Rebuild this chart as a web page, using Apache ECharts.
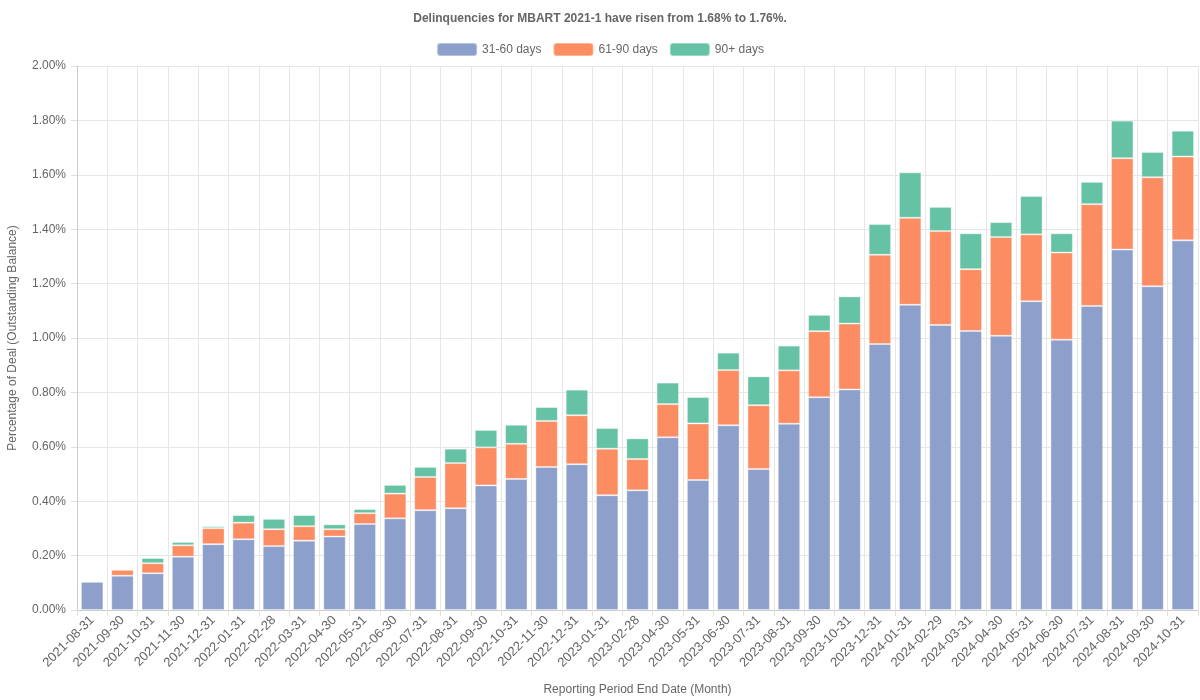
<!DOCTYPE html>
<html>
<head>
<meta charset="utf-8">
<script src="https://cdn.jsdelivr.net/npm/echarts@6/dist/echarts.min.js"></script>
<style>html,body{margin:0;padding:0;background:#fff}#c{width:1200px;height:700px}</style>
</head>
<body>
<div id="c"></div>
<script>
const categories = ["2021-08-31","2021-09-30","2021-10-31","2021-11-30","2021-12-31","2022-01-31","2022-02-28","2022-03-31","2022-04-30","2022-05-31","2022-06-30","2022-07-31","2022-08-31","2022-09-30","2022-10-31","2022-11-30","2022-12-31","2023-01-31","2023-02-28","2023-04-30","2023-05-31","2023-06-30","2023-07-31","2023-08-31","2023-09-30","2023-10-31","2023-12-31","2024-01-31","2024-02-29","2024-03-31","2024-04-30","2024-05-31","2024-06-30","2024-07-31","2024-08-31","2024-09-30","2024-10-31"];
const days31to60 = [0.104,0.126,0.135,0.196,0.242,0.260,0.235,0.255,0.270,0.316,0.337,0.367,0.374,0.458,0.482,0.526,0.536,0.422,0.440,0.635,0.478,0.679,0.518,0.685,0.782,0.811,0.978,1.122,1.048,1.026,1.008,1.135,0.994,1.118,1.325,1.190,1.359];
const days61to90 = [0.000,0.022,0.037,0.042,0.059,0.061,0.062,0.053,0.027,0.040,0.091,0.122,0.166,0.140,0.129,0.169,0.180,0.171,0.115,0.122,0.208,0.203,0.235,0.196,0.243,0.242,0.328,0.320,0.345,0.227,0.363,0.246,0.320,0.374,0.336,0.401,0.308];
const days90plus = [0.000,0.000,0.019,0.012,0.007,0.028,0.038,0.041,0.018,0.015,0.032,0.037,0.053,0.064,0.070,0.051,0.094,0.076,0.076,0.079,0.097,0.064,0.106,0.091,0.060,0.100,0.113,0.167,0.089,0.132,0.055,0.141,0.071,0.082,0.138,0.093,0.095];
const yTicks = {min:0, max:2, interval:0.2};

const chart = echarts.init(document.getElementById('c'));
const font = 'Liberation Sans, Arial, sans-serif';
function bar(name, data, color){
  return {name, type:'bar', stack:'total', data, barCategoryGap:'26%',
    itemStyle:{color, borderColor:'rgba(255,255,255,0.35)', borderWidth:1}};
}
chart.setOption({
  animation:false,
  textStyle:{fontFamily:font},
  title:{text:'Delinquencies for MBART 2021-1 have risen from 1.68% to 1.76%.', left:'center', top:8,
    textStyle:{fontSize:12, fontWeight:'bold', color:'#666', fontFamily:font}},
  legend:{top:37, left:'center', itemWidth:40, itemHeight:13, itemGap:11,
    textStyle:{fontSize:12, color:'#666', fontFamily:font}},
  grid:{left:77, right:2, top:66, bottom:90, containLabel:false, outerBoundsMode:'none'},
  xAxis:{type:'category', data:categories,
    name:'Reporting Period End Date (Month)', nameLocation:'middle', nameGap:74,
    nameTextStyle:{fontSize:12, color:'#666'},
    axisLine:{lineStyle:{color:'#ccc'}}, axisTick:{show:true, length:6, lineStyle:{color:'#e0e0e0'}},
    axisLabel:{rotate:45, fontSize:13, color:'#666', interval:0, margin:8},
    splitLine:{show:true, lineStyle:{color:'#e6e6e6'}}},
  yAxis:{type:'value', min:yTicks.min, max:yTicks.max, interval:yTicks.interval,
    name:'Percentage of Deal (Outstanding Balance)', nameLocation:'middle', nameGap:58,
    nameTextStyle:{fontSize:12, color:'#666'},
    axisLine:{show:true, lineStyle:{color:'#ccc'}}, axisTick:{show:true, length:6, lineStyle:{color:'#e0e0e0'}},
    axisLabel:{fontSize:12, color:'#666', margin:11, formatter:v=>v.toFixed(2)+'%'},
    splitLine:{show:true, lineStyle:{color:'#e6e6e6'}}},
  series:[bar('31-60 days', days31to60, '#8da0cb'), bar('61-90 days', days61to90, '#fc8d62'), bar('90+ days', days90plus, '#66c2a5')]
});
</script>
</body>
</html>
